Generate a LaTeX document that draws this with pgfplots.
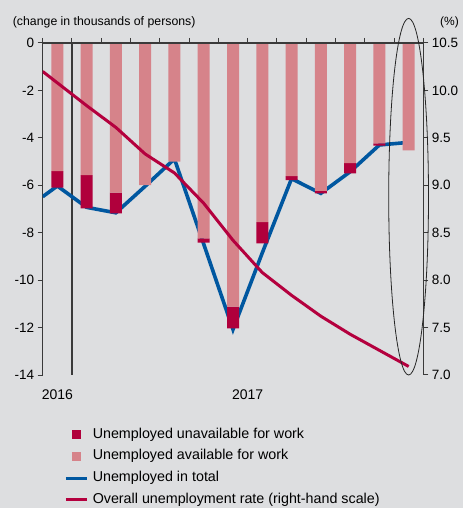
\documentclass[border=0pt]{standalone}
\usepackage{pgfplots}
\pgfplotsset{compat=1.18}
\usepackage{fontspec}
\setmainfont{Liberation Sans}
\definecolor{bg}{HTML}{DDDEE0}
\definecolor{pinkbar}{HTML}{D6838A}
\definecolor{unavred}{HTML}{B0003C}
\definecolor{totblue}{HTML}{0057A0}
\definecolor{rateline}{HTML}{B4003E}
\definecolor{axisgray}{HTML}{3A3A3A}
\begin{document}
\begin{tikzpicture}
\path[use as bounding box, fill=bg] (-42.7pt,-133pt) rectangle (420.3pt,375pt);
\begin{axis}[
  scale only axis, width=380.6pt, height=332pt,
  xmin=-0.5, xmax=12.5, ymin=-14, ymax=0,
  axis lines*=left,
  axis line style={-},
  x axis line style={draw=none},
  y axis line style={draw=axisgray, line width=1.2pt},
  xtick={0,6.5}, xticklabels={2016,2017},
  xtick style={draw=none},
  ytick={-14,-12,...,0},
  ytick style={draw=axisgray, line width=1pt},
  tick align=outside, major tick length=5pt,
  /pgf/number format/assume math mode=true,
  yticklabel style={font=\fontsize{13.5}{16}\selectfont},
  xticklabel style={font=\fontsize{14}{16}\selectfont, yshift=-6pt},
  ybar stacked, bar width=12pt,
  legend style={at={(0.0561,-0.1595)}, anchor=north west, draw=none, fill=none,
    font=\fontsize{14.3}{16}\selectfont, row sep=8.7pt, inner sep=0pt,
    nodes={inner sep=0pt, text height=10pt, text depth=3pt},
    /tikz/every odd column/.append style={column sep=4.5pt}},
  legend cell align=left,
]
\addplot[fill=pinkbar, draw=none, forget plot] coordinates {
 (0,-5.40) (1,-5.57) (2,-6.31) (3,-5.99) (4,-5.00) (5,-8.24) (6,-11.12)
 (7,-7.55) (8,-5.61) (9,-6.24) (10,-5.07) (11,-4.23) (12,-4.53)};
\addplot[fill=unavred, draw=none, forget plot] coordinates {
 (0,-0.70) (1,-1.40) (2,-0.87) (3,0) (4,0) (5,-0.18) (6,-0.91)
 (7,-0.90) (8,-0.17) (9,-0.10) (10,-0.43) (11,-0.10) (12,0)};
\addplot[sharp plot, stack plots=false, totblue, line width=3.6pt, forget plot] coordinates {
 (-0.5,-6.48) (0,-6.03) (1,-6.93) (2,-7.16) (3,-6.04) (4,-4.89) (5,-8.48)
 (6,-12.08) (7,-8.85) (8,-5.72) (9,-6.34) (10,-5.43) (11,-4.30) (12,-4.19)};
\draw[axisgray, line width=1.2pt] (axis cs:0.5,0) -- (axis cs:0.5,-14);
\addlegendimage{legend image code/.code={\fill[unavred] (6.5pt,-4pt) rectangle (14.5pt,4pt);}}
\addlegendentry{Unemployed unavailable for work}
\addlegendimage{legend image code/.code={\fill[pinkbar] (6.5pt,-4pt) rectangle (14.5pt,4pt);}}
\addlegendentry{Unemployed available for work}
\addlegendimage{legend image code/.code={\draw[totblue, line width=3pt] (0pt,0pt) -- (21pt,0pt);}}
\addlegendentry{Unemployed in total}
\addlegendimage{legend image code/.code={\draw[rateline, line width=3pt] (0pt,0pt) -- (21pt,0pt);}}
\addlegendentry{Overall unemployment rate (right-hand scale)}
\end{axis}
\begin{axis}[
  scale only axis, width=380.6pt, height=332pt,
  xmin=-0.5, xmax=12.5, ymin=7, ymax=10.5,
  axis x line*=top, axis y line*=right,
  axis line style={-, draw=axisgray, line width=1.2pt},
  xtick={-0.5,0.5,...,12.5}, xticklabels={},
  ytick={7,7.5,...,10.5},
  tick style={draw=axisgray, line width=1pt},
  tick align=outside, major tick length=5pt,
  /pgf/number format/assume math mode=true,
  yticklabel style={font=\fontsize{13.5}{16}\selectfont,
    /pgf/number format/.cd, fixed, fixed zerofill, precision=1},
]
\addplot[rateline, line width=3pt] coordinates {
 (-0.5,10.20) (0,10.08) (1,9.84) (2,9.61) (3,9.33) (4,9.13) (5,8.81)
 (6,8.42) (7,8.08) (8,7.84) (9,7.62) (10,7.43) (11,7.26) (12,7.09)};
\end{axis}
\draw[line width=0.8pt, black!85] (365.9pt,178.3pt) ellipse [x radius=19.9pt, y radius=178.3pt];
\node[anchor=base west, inner sep=0pt, font=\fontsize{12.3}{14}\selectfont] at (-30pt,349pt) {(change in thousands of persons)};
\node[anchor=base west, inner sep=0pt, font=\fontsize{12}{14}\selectfont] at (397.3pt,349pt) {(\%)};
\end{tikzpicture}
\end{document}
